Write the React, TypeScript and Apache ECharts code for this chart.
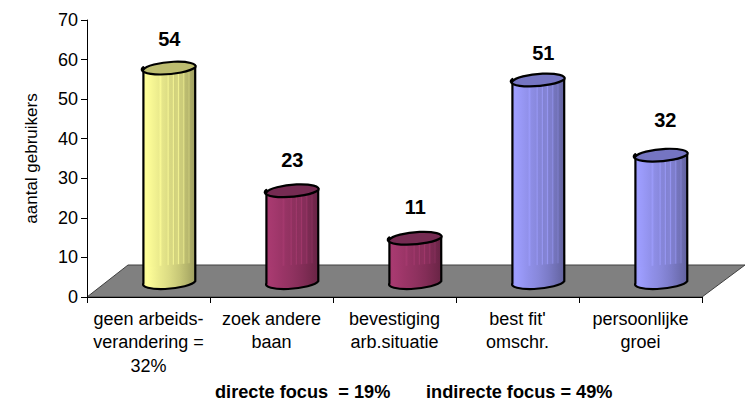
import React, { useEffect, useRef } from "react";
import * as echarts from "echarts";

const categories = ["geen arbeids-\nverandering =\n32%", "zoek andere\nbaan", "bevestiging\narb.situatie", "best fit'\nomschr.", "persoonlijke\ngroei"];
const users = [54, 23, 11, 51, 32];
const yTicks = { min: 0, max: 70, interval: 10 };
const yTitle = "aantal gebruikers";
const focusNotes = ["directe focus  = 19%", "indirecte focus = 49%"];

const palettes = [
  { light: [255, 255, 153], cap: "#BDBD70" },
  { light: [168, 58, 112], cap: "#752B52" },
  { light: [168, 58, 112], cap: "#752B52" },
  { light: [158, 158, 255], cap: "#7575C2" },
  { light: [158, 158, 255], cap: "#7575C2" },
];

// Extra lift and sideways shift of each value label above its cylinder
const labelLift = [28, 30, 30, 26, 34];
const labelShift = [0, 0, 0, 5, 4];

// Horizontal shading across a cylinder: [offset, brightness]
const streakProfile = [
  [0, 0.96], [0.06, 1], [0.16, 0.97], [0.3, 0.92], [0.34, 0.98], [0.36, 0.9], [0.46, 0.87], [0.48, 0.97],
  [0.5, 0.85], [0.56, 0.84], [0.58, 0.96], [0.6, 0.82], [0.66, 0.84], [0.68, 0.95], [0.7, 0.8], [0.76, 0.8],
  [0.78, 0.9], [0.8, 0.74], [0.86, 0.72], [0.88, 0.8], [0.9, 0.68], [1, 0.62],
];
const smoothProfile = [
  [0, 0.96], [0.08, 1], [0.3, 0.92], [0.5, 0.86], [0.7, 0.78], [0.85, 0.7], [1, 0.62],
];

const FONT = "Liberation Sans, Arial, sans-serif";
const DEPTH_X = 20.8;
const DEPTH_Y = -16;
const RX = 26;
const RY = 6.4;
const TILT = 0.095;

// Silhouette points of the tilted ellipse, where the cylinder's sides touch it
const EDGE_X = Math.sqrt((RX * Math.cos(TILT)) ** 2 + (RY * Math.sin(TILT)) ** 2);
const EDGE_Y = ((RX * RX - RY * RY) * Math.sin(TILT) * Math.cos(TILT)) / EDGE_X;
const TILT_DEG = (-TILT * 180) / Math.PI;

function shadeGradient(rgb: number[], profile: number[][]) {
  return new echarts.graphic.LinearGradient(0, 0, 1, 0, profile.map(([offset, k]) => ({
    offset,
    color: `rgb(${rgb.map((c) => Math.round(c * k)).join(",")})`,
  })));
}

// Side of a cylinder between two heights, closed by the lower half of an ellipse
function sidePath(cx: number, yTop: number, yBottom: number) {
  return `M${cx - EDGE_X} ${yTop + EDGE_Y}L${cx - EDGE_X} ${yBottom + EDGE_Y}A${RX} ${RY} ${TILT_DEG} 0 0 ${cx + EDGE_X} ${yBottom - EDGE_Y}L${cx + EDGE_X} ${yTop - EDGE_Y}`;
}

function capPath(cx: number, y: number) {
  const r = `A${RX} ${RY} ${TILT_DEG} 0 1`;
  return `M${cx - EDGE_X} ${y + EDGE_Y}${r} ${cx + EDGE_X} ${y - EDGE_Y}${r} ${cx - EDGE_X} ${y + EDGE_Y}Z`;
}

export default function App() {
  const ref = useRef<HTMLDivElement>(null);
  useEffect(() => {
    const chart = echarts.init(ref.current!, undefined, { renderer: "svg" });
    chart.setOption({
      animation: false,
      backgroundColor: "#fff",
      grid: { left: 87, right: 43, top: 20, bottom: 104 },
      xAxis: {
        type: "category",
        data: categories,
        z: 5,
        axisLine: { lineStyle: { color: "#000", width: 1 } },
        axisTick: { show: true, length: 6, lineStyle: { color: "#000" }, alignWithLabel: false },
        axisLabel: { interval: 0, color: "#000", fontFamily: FONT, fontSize: 18, lineHeight: 23.5, margin: 10 },
      },
      yAxis: {
        type: "value",
        ...yTicks,
        z: 5,
        name: yTitle,
        nameLocation: "middle",
        nameGap: 47,
        nameTextStyle: { color: "#000", fontFamily: FONT, fontSize: 17 },
        splitLine: { show: false },
        axisLine: { show: true, lineStyle: { color: "#000", width: 1 } },
        axisTick: { show: true, length: 6, lineStyle: { color: "#000" } },
        axisLabel: { color: "#000", fontFamily: FONT, fontSize: 18, margin: 9 },
      },
      graphic: [
        { type: "text", x: 215, y: 392, style: { text: focusNotes[0], font: `bold 18.2px ${FONT}`, fill: "#000", textVerticalAlign: "middle" } },
        { type: "text", x: 426, y: 392, style: { text: focusNotes[1], font: `bold 18.2px ${FONT}`, fill: "#000", textVerticalAlign: "middle" } },
      ],
      series: [
        {
          // Grey floor of the 3D plot
          type: "custom",
          z: 1,
          silent: true,
          data: [0],
          encode: { x: 0 },
          renderItem: (p: any, api: any) => {
            const y0 = api.coord([0, 0])[1];
            const left = p.coordSys.x;
            const right = left + p.coordSys.width;
            return {
              type: "polygon",
              shape: { points: [[left, y0], [left + 41, y0 - 32], [right + 43, y0 - 32], [right, y0]] },
              style: { fill: "#808080", stroke: "#404040", lineWidth: 1 },
            };
          },
        },
        {
          type: "custom",
          z: 6,
          data: users.map((v, i) => [i, v]),
          encode: { x: 0, y: 1 },
          renderItem: (_params: any, api: any) => {
            const i = api.value(0);
            const v = api.value(1);
            const [baseX, baseY] = api.coord([i, 0]);
            const [, topY] = api.coord([i, v]);
            const cx = baseX + DEPTH_X;
            const yTop = topY + DEPTH_Y;
            const yBase = baseY + DEPTH_Y;
            const yFloorBack = baseY - 32;
            const pal = palettes[i];
            const stroke = { stroke: "#000", lineWidth: 2.2, lineJoin: "round" };
            return {
              type: "group",
              children: [
                {
                  type: "path",
                  shape: { pathData: sidePath(cx, yTop, yFloorBack) },
                  style: { fill: shadeGradient(pal.light, streakProfile) },
                },
                {
                  type: "path",
                  shape: { pathData: sidePath(cx, yFloorBack, yBase) },
                  style: { fill: shadeGradient(pal.light, smoothProfile) },
                },
                {
                  type: "path",
                  shape: { pathData: sidePath(cx, yTop, yBase) },
                  style: { fill: "none", ...stroke },
                },
                {
                  type: "path",
                  shape: { pathData: capPath(cx, yTop) },
                  style: { fill: pal.cap, ...stroke },
                },
                {
                  type: "text",
                  x: cx + labelShift[i],
                  y: yTop - labelLift[i],
                  style: { text: String(v), font: `bold 20px ${FONT}`, fill: "#000", textAlign: "center", textVerticalAlign: "middle" },
                },
              ],
            };
          },
        },
      ],
    });
    return () => chart.dispose();
  }, []);
  return <div ref={ref} style={{ position: "absolute", left: 0, top: 0, width: 745, height: 401 }} />;
}
